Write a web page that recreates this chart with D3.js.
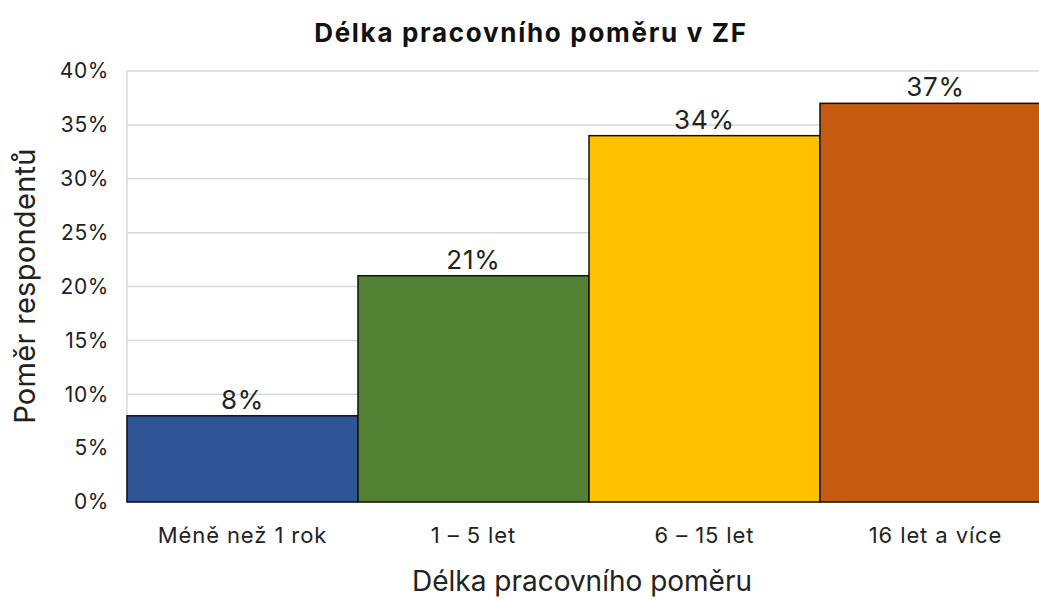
<!DOCTYPE html>
<html>
<head>
<meta charset="utf-8">
<script src="https://cdn.jsdelivr.net/npm/d3@7"></script>
<style>
  body { margin: 0; background: #fff; }
  svg { display: block; font-family: Inter, "Noto Sans", sans-serif; }
</style>
</head>
<body>
<svg id="chart" width="1039" height="599"></svg>
<script>
// chart data
const categories = ['Méně než 1 rok', '1 – 5 let', '6 – 15 let', '16 let a více'];
const values = [8, 21, 34, 37];
const colors = ['#2f5597', '#548235', '#ffc000', '#c55a11'];
const yTicks = [0, 5, 10, 15, 20, 25, 30, 35, 40];

const svg = d3.select('#chart');

// plot area (right edge runs past the window, like the original)
const plotLeft = 127, plotTop = 71, plotBottom = 502;
const bandW = 231;

const x = d3.scaleBand()
  .domain(categories)
  .range([plotLeft, plotLeft + bandW * categories.length])
  .padding(0);

const y = d3.scaleLinear()
  .domain([0, 40])
  .range([plotBottom, plotTop]);

// gridlines
svg.append('g')
  .selectAll('line')
  .data(yTicks)
  .join('line')
  .attr('x1', plotLeft)
  .attr('x2', 1039)
  .attr('y1', d => y(d))
  .attr('y2', d => y(d))
  .attr('stroke', '#d9d9d9')
  .attr('stroke-width', 1.5);

// y axis line
svg.append('line')
  .attr('x1', plotLeft).attr('x2', plotLeft)
  .attr('y1', plotTop).attr('y2', plotBottom)
  .attr('stroke', '#d9d9d9')
  .attr('stroke-width', 1.5);

// y tick labels
svg.append('g')
  .selectAll('text')
  .data(yTicks)
  .join('text')
  .attr('x', 109)
  .attr('y', d => y(d))
  .attr('dy', '0.35em')
  .attr('text-anchor', 'end')
  .attr('font-size', 21)
  .attr('letter-spacing', 0.6)
  .attr('fill', '#222')
  .text(d => d + '%');

// bars
svg.append('g')
  .selectAll('rect')
  .data(values)
  .join('rect')
  .attr('x', (d, i) => x(categories[i]))
  .attr('y', d => y(d))
  .attr('width', x.bandwidth())
  .attr('height', d => plotBottom - y(d))
  .attr('fill', (d, i) => colors[i])
  .attr('stroke', '#111')
  .attr('stroke-width', 1.5);

// value labels
svg.append('g')
  .selectAll('text')
  .data(values)
  .join('text')
  .attr('x', (d, i) => x(categories[i]) + x.bandwidth() / 2)
  .attr('y', d => y(d) - 7)
  .attr('text-anchor', 'middle')
  .attr('font-size', 26)
  .attr('letter-spacing', 0.8)
  .attr('fill', '#222')
  .text(d => d + '%');

// category labels
svg.append('g')
  .selectAll('text')
  .data(categories)
  .join('text')
  .attr('x', d => x(d) + x.bandwidth() / 2)
  .attr('y', 543)
  .attr('text-anchor', 'middle')
  .attr('font-size', 22)
  .attr('letter-spacing', 0.9)
  .attr('fill', '#222')
  .text(d => d);

// title
svg.append('text')
  .attr('x', 531)
  .attr('y', 42)
  .attr('text-anchor', 'middle')
  .attr('font-size', 26)
  .attr('font-weight', 'bold')
  .attr('letter-spacing', 1.7)
  .attr('fill', '#111')
  .text('Délka pracovního poměru v ZF');

// axis titles
svg.append('text')
  .attr('x', 582)
  .attr('y', 591)
  .attr('text-anchor', 'middle')
  .attr('font-size', 28)
  .attr('fill', '#222')
  .text('Délka pracovního poměru');

svg.append('text')
  .attr('transform', 'translate(35,286) rotate(-90)')
  .attr('text-anchor', 'middle')
  .attr('font-size', 29)
  .attr('letter-spacing', 0.3)
  .attr('fill', '#222')
  .text('Poměr respondentů');
</script>
</body>
</html>
